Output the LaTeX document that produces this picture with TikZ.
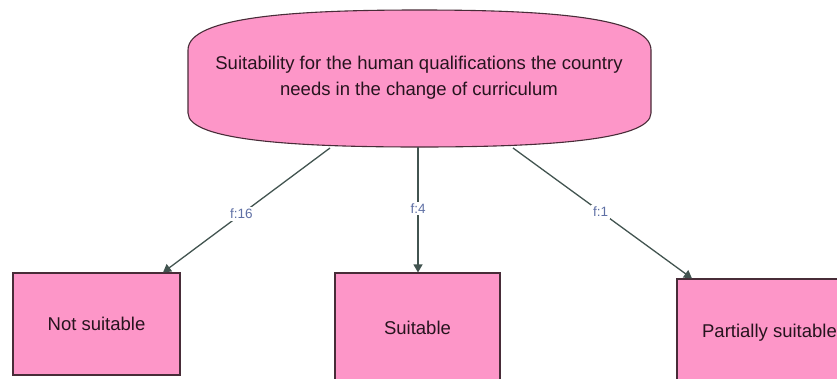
\documentclass[tikz,border=0pt]{standalone}
\usepackage{fontspec}
\setmainfont{Liberation Sans}
\usetikzlibrary{arrows.meta}
\definecolor{boxpink}{RGB}{253,150,200}
\definecolor{boxline}{RGB}{72,44,56}
\definecolor{boxtext}{RGB}{38,20,30}
\definecolor{linkgray}{RGB}{66,84,80}
\definecolor{labelblue}{RGB}{95,112,165}
\tikzset{
  choice/.style={draw=boxline, fill=boxpink, line width=1.1pt, inner sep=0pt,
    text=boxtext, font=\fontsize{18.5}{26}\selectfont},
  link/.style={draw=linkgray, line width=1.3pt,
    -{Triangle[length=8pt,width=9pt]}},
  freq/.style={fill=white, inner sep=2pt, text=labelblue,
    font=\fontsize{13.5}{15}\selectfont}
}
\begin{document}
\begin{tikzpicture}[x=1pt,y=-1pt]
\useasboundingbox (0,0) rectangle (837,378);

% question shape: flat sides with curved top and bottom
\fill[boxpink, draw=boxline, line width=1.1pt]
  (188,113) -- (188,50)
  .. controls (188,16) and (300,10) .. (419.5,10)
  .. controls (539,10) and (651,16) .. (651,50)
  -- (651,113)
  .. controls (651,141) and (539,147) .. (419.5,147)
  .. controls (300,147) and (188,141) .. (188,113) -- cycle;
\node[text=boxtext, align=center, font=\fontsize{18.5}{26}\selectfont]
  (q) at (419,78) {Suitability for the human qualifications the country\\needs in the change of curriculum};

% answer boxes
\node[choice, minimum width=167, minimum height=102] (ns) at (96.5,324) {Not suitable};
\node[choice, minimum width=165, minimum height=110] (su) at (417.5,328) {Suitable};
\node[choice, minimum width=185, minimum height=108] (ps) at (769.5,333) {Partially suitable};

% attachment points on the question shape
\coordinate (s1) at (330,148);
\coordinate (s2) at (418,147);
\coordinate (s3) at (513,148);
\coordinate (e1) at (163,0);
\coordinate (e2) at (418,0);
\coordinate (e3) at (692,0);

\draw[link] (s1) -- node[freq, pos=0.53] {f:16} (ns.north -| e1);
\draw[link] (s2) -- node[freq, pos=0.49] {f:4} (su.north -| e2);
\draw[link] (s3) -- node[freq, pos=0.49] {f:1} (ps.north -| e3);
\end{tikzpicture}
\end{document}
